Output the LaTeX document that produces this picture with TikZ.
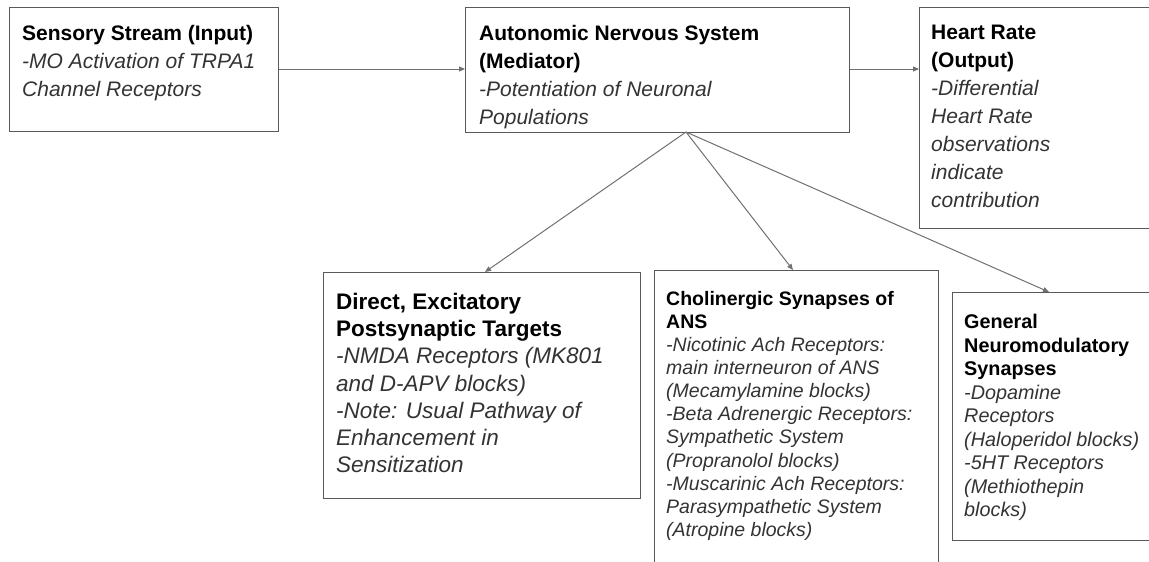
\documentclass[tikz,border=0pt]{standalone}
\usepackage{fontspec}
\setmainfont{Liberation Sans}
\usetikzlibrary{arrows.meta}
\definecolor{boxline}{HTML}{595959}
\definecolor{arrline}{HTML}{707070}
\definecolor{bodytext}{HTML}{333333}
\begin{document}
\begin{tikzpicture}[x=1pt,y=-1pt,
  boxshape/.style={draw=boxline, line width=1.4pt, rectangle, inner sep=0pt, anchor=north west},
  txtA/.style={anchor=north west, inner sep=0pt, align=left, font=\fontsize{21}{28}\selectfont},
  txtB/.style={anchor=north west, inner sep=0pt, align=left, font=\fontsize{22.5}{27.2}\selectfont},
  txtC/.style={anchor=north west, inner sep=0pt, align=left, font=\fontsize{19.5}{23.1}\selectfont},
  txtD/.style={anchor=north west, inner sep=0pt, align=left, font=\fontsize{19.8}{23.5}\selectfont},
  link/.style={draw=arrline, line width=1pt, -{Triangle[length=6pt,width=5pt]}}]
\useasboundingbox (0,0) rectangle (1149,562);
% boxes
\node[boxshape, minimum width=269pt, minimum height=124pt] (sens) at (9,7) {};
\node[boxshape, minimum width=384pt, minimum height=125pt] (ans) at (465,7) {};
\node[boxshape, minimum width=240pt, minimum height=221pt] (heart) at (919,7) {};
\node[boxshape, minimum width=317pt, minimum height=226pt] (direct) at (323,272) {};
\node[boxshape, minimum width=284pt, minimum height=310pt] (chol) at (654,270) {};
\node[boxshape, minimum width=210pt, minimum height=248pt] (gen) at (952,292) {};
% texts
\node[txtA] (sensT) at (22,25) {\textbf{Sensory Stream (Input)}\\\color{bodytext}\itshape -MO Activation of TRPA1\\\color{bodytext}\itshape Channel Receptors};
\node[txtA] (ansT) at (479,25) {\textbf{Autonomic Nervous System}\\\textbf{(Mediator)}\\\color{bodytext}\itshape -Potentiation of Neuronal\\\color{bodytext}\itshape Populations};
\node[txtA] (heartT) at (931,25) {\textbf{Heart Rate}\\\textbf{(Output)}\\\color{bodytext}\itshape -Differential\\\color{bodytext}\itshape Heart Rate\\\color{bodytext}\itshape observations\\\color{bodytext}\itshape indicate\\\color{bodytext}\itshape contribution};
\node[txtB] (directT) at (336,293) {\textbf{Direct, Excitatory}\\\textbf{Postsynaptic Targets}\\\color{bodytext}\itshape -NMDA Receptors (MK801\\\color{bodytext}\itshape and D-APV blocks)\\\color{bodytext}\itshape -Note: Usual Pathway of\\\color{bodytext}\itshape Enhancement in\\\color{bodytext}\itshape Sensitization};
\node[txtC] (cholT) at (666,291) {\textbf{Cholinergic Synapses of}\\\textbf{ANS}\\\color{bodytext}\itshape -Nicotinic Ach Receptors:\\\color{bodytext}\itshape main interneuron of ANS\\\color{bodytext}\itshape (Mecamylamine blocks)\\\color{bodytext}\itshape -Beta Adrenergic Receptors:\\\color{bodytext}\itshape Sympathetic System\\\color{bodytext}\itshape (Propranolol blocks)\\\color{bodytext}\itshape -Muscarinic Ach Receptors:\\\color{bodytext}\itshape Parasympathetic System\\\color{bodytext}\itshape (Atropine blocks)};
\node[txtD] (genT) at (964,314) {\textbf{General}\\\textbf{Neuromodulatory}\\\textbf{Synapses}\\\color{bodytext}\itshape -Dopamine\\\color{bodytext}\itshape Receptors\\\color{bodytext}\itshape (Haloperidol blocks)\\\color{bodytext}\itshape -5HT Receptors\\\color{bodytext}\itshape (Methiothepin\\\color{bodytext}\itshape blocks)};
% connectors
\coordinate (ansfoot) at (686,132);
\draw[link] (sens.east |- 0,69) -- (ans.west |- 0,69);
\draw[link] (ans.east |- 0,69) -- (heart.west |- 0,69);
\draw[link] (ansfoot) -- (direct.north -| 485,0);
\draw[link] (ansfoot) -- (chol.north -| 793,0);
\draw[link] (ansfoot) -- (gen.north -| 1049,0);
\end{tikzpicture}
\end{document}
